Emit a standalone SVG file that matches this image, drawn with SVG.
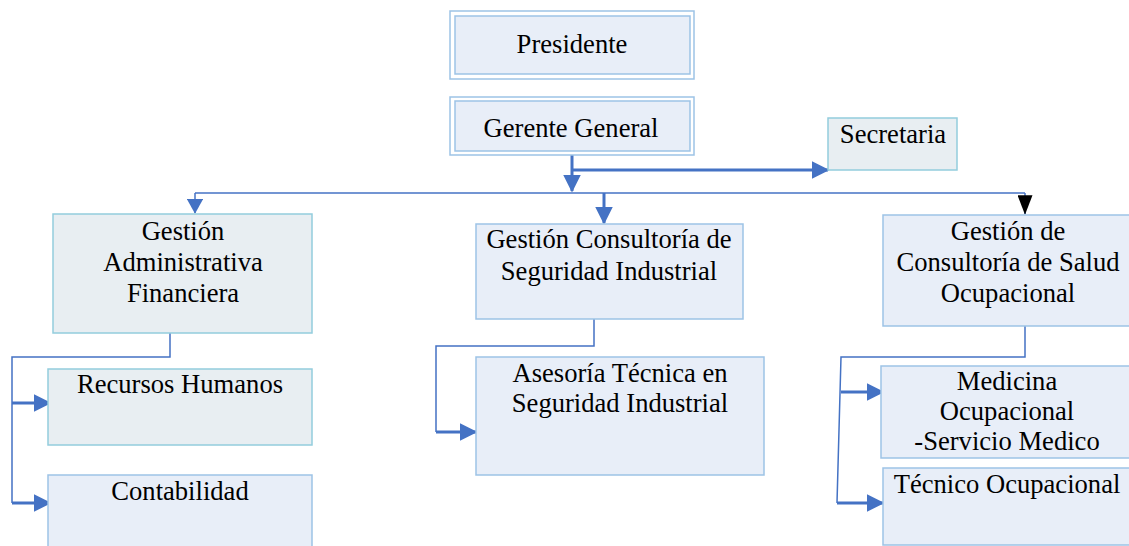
<svg xmlns="http://www.w3.org/2000/svg" width="1129" height="546" viewBox="0 0 1129 546">
<defs>
<style>
.bx{fill:#e8eef8;stroke:#9dc3e6;stroke-width:1.5}
.gx{fill:#e8eef2;stroke:#93cddd;stroke-width:1.5}
.ol{fill:none;stroke:#9dc3e6;stroke-width:1.5}
.t{font-family:'Liberation Serif',serif;font-size:26.6px;fill:#000;text-anchor:middle}
.thick{fill:none;stroke:#4472c4;stroke-width:3}
.thin{fill:none;stroke:#4472c4;stroke-width:1.5}
</style>
<marker id="ab" markerWidth="6" markerHeight="6" refX="5.5" refY="3" orient="auto" markerUnits="strokeWidth"><path d="M0,0 L6,3 L0,6 Z" fill="#4472c4"/></marker>
<marker id="abt" markerWidth="10" markerHeight="11" refX="9.5" refY="5.5" orient="auto" markerUnits="strokeWidth"><path d="M0,0 L10,5.5 L0,11 Z" fill="#4472c4"/></marker>
<marker id="ak" markerWidth="13" markerHeight="10" refX="12.5" refY="5" orient="auto" markerUnits="strokeWidth"><path d="M0,0 L13,5 L0,10 Z" fill="#000"/></marker>
</defs>
<g id="connectors">
<path class="thick" d="M572,155 V191" marker-end="url(#ab)"/>
<path class="thick" d="M572,170 H828" marker-end="url(#ab)"/>
<path class="thin" d="M195,193 H1025"/>
<path class="thin" d="M195,193 V213" marker-end="url(#abt)"/>
<path class="thick" d="M604,193 V223" marker-end="url(#ab)"/>
<path class="thin" d="M1025,193 V214" marker-end="url(#ak)" stroke="#000"/>
<path class="thin" d="M170,333 V357 H12 V503"/>
<path class="thick" d="M12,403 H50" marker-end="url(#ab)"/>
<path class="thick" d="M12,503 H50" marker-end="url(#ab)"/>
<path class="thin" d="M594,319 V346 H436 V432"/>
<path class="thick" d="M436,432 H476" marker-end="url(#ab)"/>
<path class="thin" d="M1025,326 V357 H841 L837,503"/>
<path class="thick" d="M841,392 H883" marker-end="url(#ab)"/>
<path class="thick" d="M837,503 H883" marker-end="url(#ab)"/>
</g>
<g id="presidente">
<rect class="ol" x="450" y="11" width="244" height="68"/>
<rect class="bx" x="455" y="16" width="235" height="58"/>
<text class="t" x="572" y="53">Presidente</text>
</g>
<g id="gerente">
<rect class="ol" x="450" y="97" width="244" height="58"/>
<rect class="bx" x="455" y="101" width="235" height="50"/>
<text class="t" x="571" y="137">Gerente General</text>
</g>
<g id="secretaria">
<rect class="gx" x="828" y="118" width="129" height="52"/>
<text class="t" x="893" y="143">Secretaria</text>
</g>
<g id="gestion-admin">
<rect class="gx" x="53" y="214" width="259" height="119"/>
<text class="t" x="183" y="240">Gestión</text>
<text class="t" x="183" y="271">Administrativa</text>
<text class="t" x="183" y="302">Financiera</text>
</g>
<g id="recursos">
<rect class="gx" x="48" y="369" width="264" height="76"/>
<text class="t" x="180" y="393">Recursos Humanos</text>
</g>
<g id="contabilidad">
<rect class="bx" x="48" y="475" width="264" height="80"/>
<text class="t" x="180" y="500">Contabilidad</text>
</g>
<g id="gestion-seguridad">
<rect class="bx" x="476" y="224" width="267" height="95"/>
<text class="t" x="609" y="248">Gestión Consultoría de</text>
<text class="t" x="609" y="280">Seguridad Industrial</text>
</g>
<g id="asesoria">
<rect class="bx" x="476" y="357" width="288" height="118"/>
<text class="t" x="620" y="382">Asesoría Técnica en</text>
<text class="t" x="620" y="412">Seguridad Industrial</text>
</g>
<g id="gestion-salud">
<rect class="bx" x="883" y="215" width="260" height="111"/>
<text class="t" x="1008" y="240">Gestión de</text>
<text class="t" x="1008" y="271">Consultoría de Salud</text>
<text class="t" x="1008" y="302">Ocupacional</text>
</g>
<g id="medicina">
<rect class="bx" x="881" y="366" width="262" height="92"/>
<text class="t" x="1007" y="390">Medicina</text>
<text class="t" x="1007" y="420">Ocupacional</text>
<text class="t" x="1007" y="450">-Servicio Medico</text>
</g>
<g id="tecnico">
<rect class="bx" x="883" y="468" width="260" height="77"/>
<text class="t" x="1007" y="493">Técnico Ocupacional</text>
</g>
</svg>
